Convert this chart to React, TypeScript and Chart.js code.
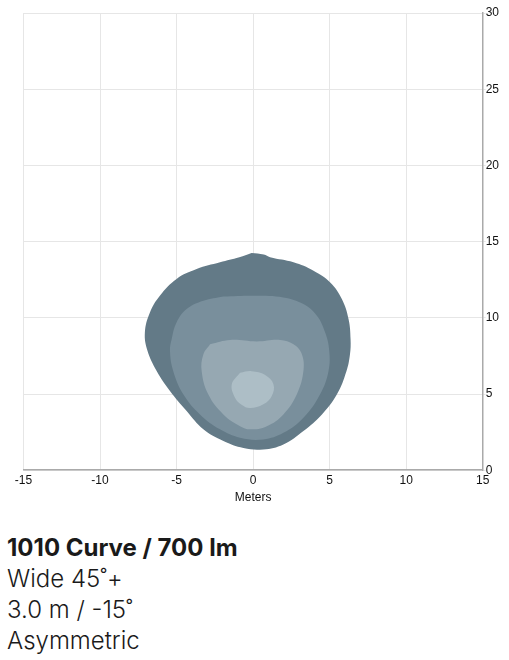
import React, { useEffect, useRef } from "react";
import { Chart, registerables } from "chart.js";

Chart.register(...registerables);

type P = { x: number; y: number };

const xTicks = [-15, -10, -5, 0, 5, 10, 15];
const yTicks = [0, 5, 10, 15, 20, 25, 30];

// Iso-illuminance contours (meters), outer to inner
const contourOuter: P[] = [
  { x: -0.1, y: 14.25 }, { x: 0.7, y: 14.15 }, { x: 1.11, y: 13.97 }, { x: 2.64, y: 13.64 },
  { x: 3.95, y: 13.09 }, { x: 5.04, y: 12.32 }, { x: 5.8, y: 11.23 }, { x: 6.24, y: 9.91 },
  { x: 6.37, y: 8.6 }, { x: 6.33, y: 7.6 }, { x: 6.1, y: 6.5 }, { x: 5.48, y: 4.98 },
  { x: 4.5, y: 3.66 }, { x: 3.29, y: 2.57 }, { x: 1.98, y: 1.69 }, { x: 0.67, y: 1.36 },
  { x: -0.63, y: 1.45 }, { x: -1.94, y: 1.91 }, { x: -3.25, y: 2.68 }, { x: -4.34, y: 3.88 },
  { x: -5.43, y: 5.2 }, { x: -6.3, y: 6.51 }, { x: -6.9, y: 7.83 }, { x: -7.07, y: 9.03 },
  { x: -6.74, y: 10.35 }, { x: -6.09, y: 11.45 }, { x: -5.0, y: 12.55 }, { x: -3.69, y: 13.2 },
  { x: -2.16, y: 13.64 }, { x: -0.9, y: 13.97 }, { x: -0.1, y: 14.25 },
];

const contourSecond: P[] = [
  { x: -1.94, y: 11.4 }, { x: 0.13, y: 11.45 }, { x: 1.98, y: 11.34 }, { x: 3.29, y: 10.9 },
  { x: 4.17, y: 10.13 }, { x: 4.71, y: 9.03 }, { x: 4.97, y: 7.9 }, { x: 4.93, y: 6.51 },
  { x: 4.38, y: 4.98 }, { x: 3.29, y: 3.44 }, { x: 1.98, y: 2.45 }, { x: 0.67, y: 2.02 },
  { x: -0.85, y: 2.13 }, { x: -2.16, y: 2.68 }, { x: -3.47, y: 3.66 }, { x: -4.56, y: 4.98 },
  { x: -5.22, y: 6.51 }, { x: -5.43, y: 7.83 }, { x: -5.32, y: 8.6 }, { x: -5.0, y: 9.69 },
  { x: -4.34, y: 10.57 }, { x: -3.25, y: 11.12 }, { x: -1.94, y: 11.4 },
];

const contourThird: P[] = [
  { x: -2.81, y: 8.27 }, { x: -1.5, y: 8.55 }, { x: 0.24, y: 8.45 }, { x: 1.77, y: 8.55 },
  { x: 2.64, y: 8.27 }, { x: 3.15, y: 7.7 }, { x: 3.3, y: 6.6 }, { x: 2.86, y: 4.98 },
  { x: 1.98, y: 3.66 }, { x: 0.9, y: 2.89 }, { x: -0.2, y: 2.68 }, { x: -0.85, y: 2.89 },
  { x: -1.94, y: 3.66 }, { x: -2.93, y: 4.98 }, { x: -3.36, y: 6.51 }, { x: -3.25, y: 7.6 },
  { x: -2.81, y: 8.27 },
];

const contourInner: P[] = [
  { x: -0.85, y: 6.4 }, { x: -0.1, y: 6.5 }, { x: 0.79, y: 6.25 }, { x: 1.33, y: 5.64 },
  { x: 1.22, y: 4.87 }, { x: 0.67, y: 4.32 }, { x: -0.2, y: 4.08 }, { x: -0.75, y: 4.3 },
  { x: -1.18, y: 4.76 }, { x: -1.39, y: 5.64 }, { x: -0.85, y: 6.4 },
];

const contourColors = ["#adbec6", "#96a8b2", "#798f9c", "#637a87"];

const titleLine = "1010 Curve / 700 lm";
const infoLines = ["Wide 45˚+", "3.0 m / -15˚", "Asymmetric"];

export default function App() {
  const canvasRef = useRef<HTMLCanvasElement | null>(null);

  useEffect(() => {
    const canvas = canvasRef.current;
    if (!canvas) return;
    const contours = [contourInner, contourThird, contourSecond, contourOuter];
    const chart = new Chart(canvas, {
      type: "scatter",
      data: {
        datasets: contours.map((c, i) => ({
          data: c,
          showLine: true,
          fill: "shape",
          tension: 0.4,
          borderWidth: 0,
          borderColor: contourColors[i],
          backgroundColor: contourColors[i],
          pointRadius: 0,
        })) as any,
      },
      options: {
        animation: false,
        responsive: false,
        events: [],
        layout: { padding: { top: 13, left: 23.5, right: 10, bottom: 0 } },
        plugins: { legend: { display: false }, tooltip: { enabled: false } },
        scales: {
          x: {
            type: "linear",
            position: "bottom",
            min: -15,
            max: 15,
            afterBuildTicks: (s: any) => { s.ticks = xTicks.map((v) => ({ value: v })); },
            ticks: {
              color: "#111",
              padding: 3,
              maxRotation: 0,
              font: { family: "'Liberation Sans', Arial", size: 12 },
            },
            grid: { color: "#e6e6e6", drawTicks: false },
            border: { color: "#aaaaaa", width: 1.5 },
            title: {
              display: true,
              text: "Meters",
              color: "#111",
              padding: { top: 0, bottom: 0 },
              font: { family: "'Liberation Sans', Arial", size: 12 },
            },
          },
          y: {
            type: "linear",
            position: "right",
            min: 0,
            max: 30,
            afterBuildTicks: (s: any) => { s.ticks = yTicks.map((v) => ({ value: v })); },
            ticks: {
              color: "#111",
              padding: 0,
              font: { family: "'Liberation Sans', Arial", size: 12 },
            },
            grid: { color: "#e6e6e6", tickLength: 3 },
            border: { color: "#aaaaaa", width: 1.5 },
          },
        },
      } as any,
    });
    return () => chart.destroy();
  }, []);

  return (
    <div style={{ position: "absolute", left: 0, top: 0, width: 509, height: 660 }}>
      <canvas ref={canvasRef} width={509} height={505} style={{ position: "absolute", left: 0, top: 0, width: 509, height: 505 }} />
      <div
        style={{
          position: "absolute",
          left: 7,
          top: 532,
          fontFamily: "Inter, 'Noto Sans', sans-serif",
          fontSize: 24,
          lineHeight: "31px",
          color: "#1a1a1a",
        }}
      >
        <div style={{ fontWeight: 700 }}>{titleLine}</div>
        {infoLines.map((l) => (
          <div key={l} style={{ fontWeight: 300 }}>{l}</div>
        ))}
      </div>
    </div>
  );
}
